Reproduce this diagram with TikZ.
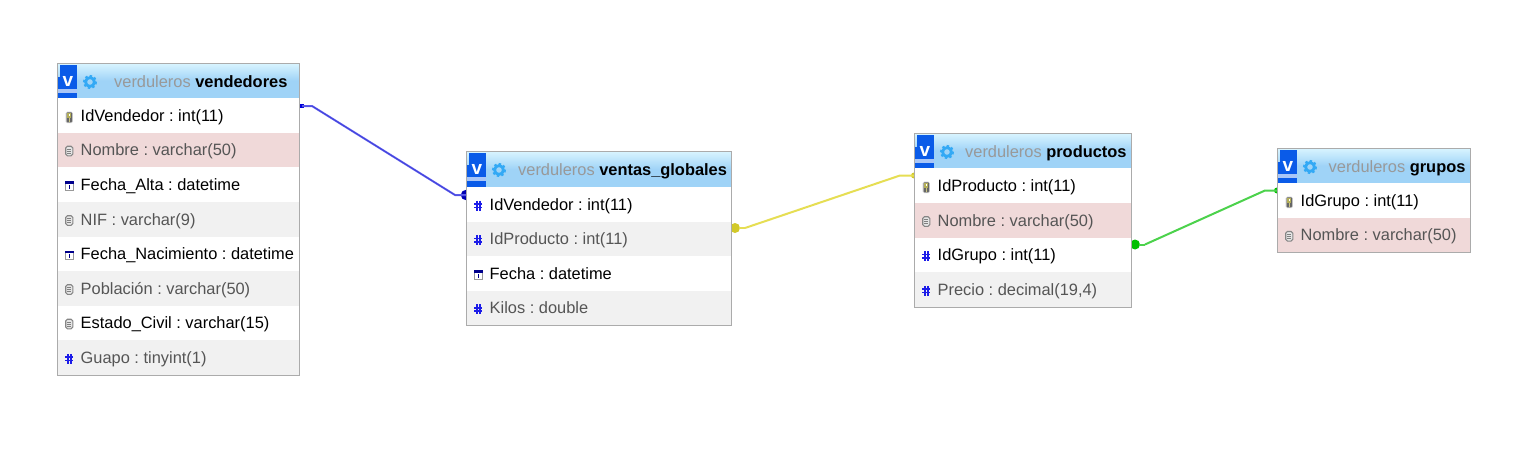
\documentclass[tikz,border=0pt]{standalone}
\usepackage{fontspec}
\setmainfont{Liberation Sans}
\frenchspacing
\definecolor{tblborder}{HTML}{ABABAB}
\definecolor{rowpink}{HTML}{F0D9D9}
\definecolor{rowgrey}{HTML}{F1F1F1}
\definecolor{headtop}{HTML}{D8F4FF}
\definecolor{headbot}{HTML}{9FD3F7}
\definecolor{vblue}{HTML}{0A5BE8}
\definecolor{gearblue}{HTML}{33A9F5}
\definecolor{hashblue}{HTML}{1C1CE8}
\definecolor{titlegrey}{HTML}{999999}
\definecolor{evental}{HTML}{555555}
\definecolor{linkblue}{HTML}{6A6AF2}
\definecolor{coreblue}{HTML}{4444DC}
\tikzset{
  x=1pt,y=-1pt,
  tabletext/.style={font=\fontsize{16.4}{19}\selectfont\frenchspacing,anchor=base west,inner sep=0pt},
  rowbox/.style={anchor=north west,inner sep=0pt,outer sep=0pt,draw=none},
  frame/.style={draw=tblborder,line width=1pt},
  link/.style={line width=2pt,line join=round},
  linkcore/.style={line width=1pt,line join=round},
}
% icons
\newcommand{\iconkey}[2]{%
  \fill[black!18,rounded corners=1.5pt] (#1-3.6,#2-5) rectangle (#1+3.6,#2+6.5);
  \fill[black!60,rounded corners=1pt] (#1-2.8,#2-4.4) rectangle (#1+2.8,#2+5.6);
  \fill[yellow!60!black!85!white] (#1-1.9,#2-3.6) rectangle (#1+1.9,#2+.8);
  \fill[white] (#1-.7,#2-2.6) rectangle (#1+.7,#2-1.2);
  \fill[yellow!60!black!60!white] (#1-.8,#2+.8) rectangle (#1+.8,#2+5);
}
\newcommand{\iconlist}[2]{%
  \draw[black!48,fill=black!10,line width=1.1pt,rounded corners=1.8pt] (#1-3.6,#2-5) rectangle (#1+3.6,#2+4.6);
  \foreach \dd in {-2.2,-.2,1.8}{\draw[black!50,line width=.8pt] (#1-2,#2+\dd) -- (#1+2,#2+\dd);}
}
\newcommand{\iconhash}[2]{%
  \draw[hashblue,line width=1.6pt]
    (#1-1.6,#2-5) -- (#1-1.6,#2+5) (#1+1.6,#2-5) -- (#1+1.6,#2+5)
    (#1-4,#2-1.7) -- (#1+4,#2-1.7) (#1-4,#2+1.7) -- (#1+4,#2+1.7);
}
\newcommand{\iconcal}[2]{%
  \draw[black!40,fill=white,line width=.9pt] (#1-4,#2-4) rectangle (#1+4,#2+4.5);
  \fill[blue!55!black] (#1-4.4,#2-4.6) rectangle (#1+4.4,#2-2);
  \fill[blue!55!black] (#1-.8,#2-.8) rectangle (#1+.8,#2+3.2);
}
% \tblhead{name}{left}{right}{top}{bottom}{title x}{bold title}
\newcommand{\tblhead}[7]{%
  \pgfmathsetlengthmacro{\boxw}{(#3-#2)*1pt}
  \pgfmathsetlengthmacro{\boxh}{(#5-#4)*1pt}
  \node[rowbox,minimum width=\boxw,minimum height=\boxh,top color=headtop,bottom color=headbot,middle color=headbot] (#1) at (#2,#4) {};
  \fill[vblue] (#2+2,#4+1) rectangle (#2+19,#4+25);
  \fill[vblue] (#2,#4+13) rectangle (#2+19,#4+25);
  \fill[vblue!35!white] (#2,#4+25) rectangle (#2+19,#4+29);
  \fill[vblue] (#2,#4+29) rectangle (#2+19,#5);
  \node[inner sep=0pt,text=white,font=\fontsize{19}{19}\bfseries\selectfont] (#1v) at (#2+10.5,#4+17.5) {v};
  \draw[gearblue,line width=2.8pt] (#2+32.5,#4+18.5) circle (4.4);
  \draw[gearblue,line width=1.6pt,dash pattern=on 2.4pt off 2.4pt] (#2+32.5,#4+18.5) circle (6.2);
  \node[tabletext] (#1t) at (#6,#4+23.5) {\textcolor{titlegrey}{verduleros} \textbf{#7}};
}
% \tblrow{name}{left}{right}{top}{bottom}{fill}{icon}{text colour}{text}
\newcommand{\tblrow}[9]{%
  \pgfmathsetlengthmacro{\boxw}{(#3-#2)*1pt}
  \pgfmathsetlengthmacro{\boxh}{(#5-#4)*1pt}
  \node[rowbox,fill=#6,minimum width=\boxw,minimum height=\boxh] (#1) at (#2,#4) {};
  \pgfmathsetmacro{\cy}{(#4+#5)/2}
  \csname icon#7\endcsname{#2+11.8}{\cy+1.2}
  \node[tabletext,text=#8] (#1t) at (#2+23,\cy+5.5) {#9};
}
\begin{document}
\begin{tikzpicture}
\useasboundingbox (0,0) rectangle (1527,458);
\fill[white] (0,0) rectangle (1527,458);

% connector end points
\coordinate (c1a) at (302,106);
\coordinate (c1b) at (312,106);
\coordinate (c1c) at (455,195);
\coordinate (c1d) at (466,195);
\coordinate (c2a) at (735,228);
\coordinate (c2b) at (745,228);
\coordinate (c2c) at (900,175.5);
\coordinate (c2d) at (914,175.5);
\coordinate (c3a) at (1135,244.5);
\coordinate (c3b) at (1145,244.5);
\coordinate (c3c) at (1265,190.5);
\coordinate (c3d) at (1277,190.5);

% connector terminals
\fill[blue!70!black] (c1d) circle (5.2);
\fill[blue!85!black] (299,104) rectangle (303.5,108);
\fill[yellow!80!black] (c2d) circle (3);
\fill[green!75!black] (c3d) circle (3);
\fill[yellow!80!black] (c2a) circle (5);
\fill[green!75!black] (c3a) circle (5);

% vendedores
\tblhead{ven}{57.5}{299.5}{63.5}{98}{114}{vendedores}
\tblrow{ven1}{57.5}{299.5}{98}{133}{white}{key}{black}{IdVendedor : int(11)}
\tblrow{ven2}{57.5}{299.5}{133}{167}{rowpink}{list}{evental}{Nombre : varchar(50)}
\tblrow{ven3}{57.5}{299.5}{167}{202}{white}{cal}{black}{Fecha\_Alta : datetime}
\tblrow{ven4}{57.5}{299.5}{202}{237}{rowgrey}{list}{evental}{NIF : varchar(9)}
\tblrow{ven5}{57.5}{299.5}{237}{271}{white}{cal}{black}{Fecha\_Nacimiento : datetime}
\tblrow{ven6}{57.5}{299.5}{271}{306}{rowgrey}{list}{evental}{Población : varchar(50)}
\tblrow{ven7}{57.5}{299.5}{306}{340}{white}{list}{black}{Estado\_Civil : varchar(15)}
\tblrow{ven8}{57.5}{299.5}{340}{375.5}{rowgrey}{hash}{evental}{Guapo : tinyint(1)}
\draw[frame] (57.5,63.5) rectangle (299.5,375.5);

% ventas_globales
\tblhead{vg}{466.5}{731.5}{151.5}{187}{518}{ventas\_globales}
\tblrow{vg1}{466.5}{731.5}{187}{222}{white}{hash}{black}{IdVendedor : int(11)}
\tblrow{vg2}{466.5}{731.5}{222}{256}{rowgrey}{hash}{evental}{IdProducto : int(11)}
\tblrow{vg3}{466.5}{731.5}{256}{291}{white}{cal}{black}{Fecha : datetime}
\tblrow{vg4}{466.5}{731.5}{291}{325.5}{rowgrey}{hash}{evental}{Kilos : double}
\draw[frame] (466.5,151.5) rectangle (731.5,325.5);

% productos
\tblhead{pr}{914.5}{1131.5}{133.5}{168}{965}{productos}
\tblrow{pr1}{914.5}{1131.5}{168}{203}{white}{key}{black}{IdProducto : int(11)}
\tblrow{pr2}{914.5}{1131.5}{203}{238}{rowpink}{list}{evental}{Nombre : varchar(50)}
\tblrow{pr3}{914.5}{1131.5}{238}{272}{white}{hash}{black}{IdGrupo : int(11)}
\tblrow{pr4}{914.5}{1131.5}{272}{307.5}{rowgrey}{hash}{evental}{Precio : decimal(19,4)}
\draw[frame] (914.5,133.5) rectangle (1131.5,307.5);

% grupos
\tblhead{gr}{1277.5}{1470.5}{148.5}{183}{1328.5}{grupos}
\tblrow{gr1}{1277.5}{1470.5}{183}{218}{white}{key}{black}{IdGrupo : int(11)}
\tblrow{gr2}{1277.5}{1470.5}{218}{252.5}{rowpink}{list}{evental}{Nombre : varchar(50)}
\draw[frame] (1277.5,148.5) rectangle (1470.5,252.5);

% connectors
\draw[link,draw=linkblue] (c1a) -- (c1b) -- (c1c) -- (c1d);
\draw[linkcore,draw=coreblue] (c1a) -- (c1b) -- (c1c) -- (c1d);
\draw[link,draw=yellow!85!black!75!white] (c2b) -- (c2c) -- (c2d);
\draw[link,draw=green!75!black!70!white] (c3b) -- (c3c) -- (c3d);
\draw[link,draw=yellow!85!black!75!white] (739,228) -- (c2b);
\draw[link,draw=green!75!black!70!white] (1139,244.5) -- (c3b);
\end{tikzpicture}
\end{document}
